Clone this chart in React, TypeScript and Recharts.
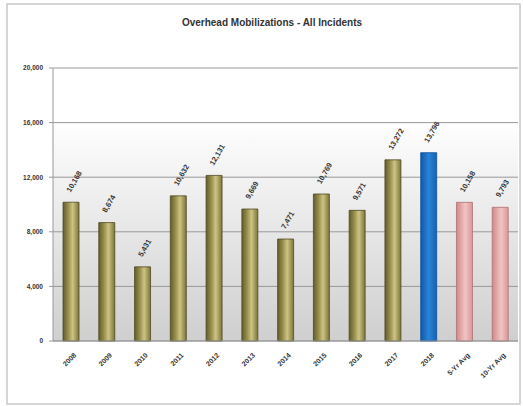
import React from "react";
import { BarChart, Bar, XAxis, YAxis, CartesianGrid, Cell, LabelList } from "recharts";

const categories = ["2008", "2009", "2010", "2011", "2012", "2013", "2014", "2015", "2016", "2017", "2018", "5-Yr Avg", "10-Yr Avg"];
const values = [10168, 8674, 5431, 10632, 12131, 9669, 7471, 10769, 9571, 13272, 13796, 10158, 9793];
const kinds = ["year", "year", "year", "year", "year", "year", "year", "year", "year", "year", "current", "avg", "avg"];
const yTicks = [0, 4000, 8000, 12000, 16000, 20000];

const data = categories.map((c, i) => ({ name: c, value: values[i], kind: kinds[i] }));

const fillFor: Record<string, string> = {
  year: "url(#gOlive)",
  current: "url(#gBlue)",
  avg: "url(#gPink)",
};
const strokeFor: Record<string, string> = {
  year: "#4f4a22",
  current: "#0d4f99",
  avg: "#b07070",
};

const FONT = "'Liberation Sans', Arial, sans-serif";

const XTick = (props: any) => {
  const { x, y, payload } = props;
  return (
    <g transform={`translate(${x + 3},${y + 4})`}>
      <text
        textAnchor="end"
        transform="rotate(-45)"
        fontSize={7}
        fontWeight="bold"
        fontFamily={FONT}
        fill="#333"
        dy={4}
      >
        {payload.value}
      </text>
    </g>
  );
};

const ValueLabel = (props: any) => {
  const { x, y, width, value } = props;
  const cx = x + width / 2 - 3;
  const cy = y - 11;
  return (
    <text
      transform={`translate(${cx},${cy}) rotate(-60)`}
      textAnchor="start"
      fontSize={7.5}
      fontWeight="bold"
      fontFamily={FONT}
      fill="#333"
      dy={3}
    >
      {Number(value).toLocaleString("en-US")}
    </text>
  );
};

export default function App() {
  return (
    <div style={{ position: "absolute", left: 0, top: 0, width: 523, height: 406, background: "#fff" }}>
      <svg width={523} height={406} style={{ position: "absolute", left: 0, top: 0 }}>
        <rect x={7} y={4} width={513} height={400} fill="#fff" stroke="#c8c8c8" strokeWidth={1.5} />
        <text
          x={272}
          y={26}
          textAnchor="middle"
          fontSize={10}
          fontWeight="bold"
          fontFamily={FONT}
          fill="#333"
        >
          Overhead Mobilizations - All Incidents
        </text>
      </svg>
      <div style={{ position: "absolute", left: 0, top: 0 }}>
        <BarChart
          width={523}
          height={406}
          data={data}
          margin={{ top: 68, right: 5, bottom: 0, left: 0 }}
          barCategoryGap={0}
        >
          <defs>
            <linearGradient id="gBg" x1="0" y1="0" x2="0" y2="1">
              <stop offset="0" stopColor="#ffffff" />
              <stop offset="0.18" stopColor="#ffffff" />
              <stop offset="1" stopColor="#cfcfcf" />
            </linearGradient>
            <linearGradient id="gOlive" x1="0" y1="0" x2="1" y2="0">
              <stop offset="0" stopColor="#635c2c" />
              <stop offset="0.3" stopColor="#938a4a" />
              <stop offset="0.6" stopColor="#cdc484" />
              <stop offset="1" stopColor="#7c743a" />
            </linearGradient>
            <linearGradient id="gBlue" x1="0" y1="0" x2="1" y2="0">
              <stop offset="0" stopColor="#0f5aa8" />
              <stop offset="0.5" stopColor="#2a83d6" />
              <stop offset="1" stopColor="#1462b2" />
            </linearGradient>
            <linearGradient id="gPink" x1="0" y1="0" x2="1" y2="0">
              <stop offset="0" stopColor="#d08888" />
              <stop offset="0.55" stopColor="#f2c4c4" />
              <stop offset="1" stopColor="#d89898" />
            </linearGradient>
          </defs>
          <CartesianGrid vertical={false} stroke="#999999" fill="url(#gBg)" />
          <XAxis
            dataKey="name"
            interval={0}
            height={65}
            tick={<XTick />}
            tickLine={false}
            axisLine={{ stroke: "#999999" }}
          />
          <YAxis
            width={53}
            domain={[0, 20000]}
            ticks={yTicks}
            tickFormatter={(v: number) => v.toLocaleString("en-US")}
            tick={{ fontSize: 6.5, fontWeight: "bold", fill: "#333", fontFamily: FONT }}
            tickLine={{ stroke: "#999999" }}
            tickSize={4}
            tickMargin={6}
            axisLine={{ stroke: "#999999" }}
          />
          <YAxis
            yAxisId="r"
            orientation="right"
            width={0}
            domain={[0, 20000]}
            tick={false}
            tickLine={false}
            axisLine={{ stroke: "#c8c8c8" }}
          />
          <Bar dataKey="value" barSize={16} isAnimationActive={false}>
            {data.map((d, i) => (
              <Cell key={i} fill={fillFor[d.kind]} stroke={strokeFor[d.kind]} strokeWidth={0.8} />
            ))}
            <LabelList dataKey="value" content={<ValueLabel />} />
          </Bar>
        </BarChart>
      </div>
    </div>
  );
}
